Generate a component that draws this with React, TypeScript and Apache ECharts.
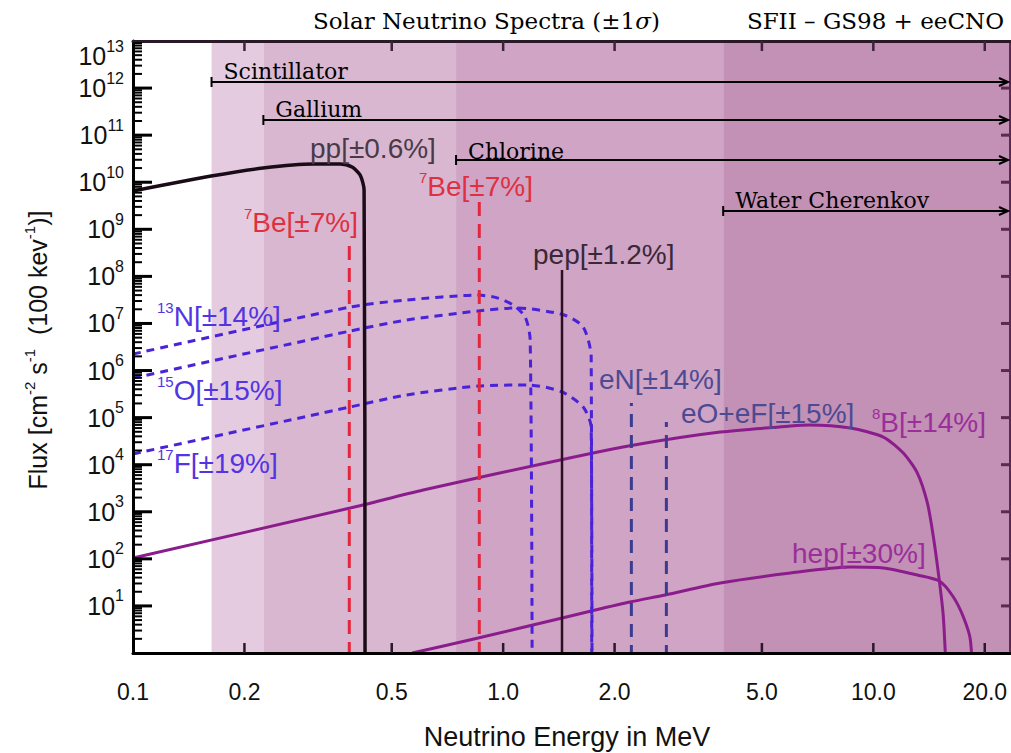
import React, { useEffect, useRef } from "react";
import * as echarts from "echarts";

// ---- axis ranges -------------------------------------------------------
const energyMin = 0.1; // MeV
const energyMax = 23.4; // MeV
const fluxExpMin = 0; // 10^0
const fluxExpMax = 13; // 10^13

const energyTickValues = [0.1, 0.2, 0.5, 1, 2, 5, 10, 20];
const fluxTickExponents = [1, 2, 3, 4, 5, 6, 7, 8, 9, 10, 11, 12, 13];

// ---- detector thresholds (MeV) -----------------------------------------
const detectorNames = ["Scintillator", "Gallium", "Chlorine", "Water Cherenkov"];
const detectorThresholds = [0.163, 0.225, 0.746, 3.93];
const detectorBandColors = ["#e4cbe0", "#d9b7d1", "#cfa4c5", "#c291b5"];

// ---- continuum spectra: [energy MeV, flux] -----------------------------
const ppSpectrum = [
  [0.1, 6.5e9], [0.1626, 1.35e10], [0.2246, 2.0e10], [0.3065, 2.44e10],
  [0.3626, 2.44e10], [0.3907, 2.1e10], [0.4108, 1.42e10], [0.421, 6.8e9], [0.4236, 0.1],
];
const n13Spectrum = [
  [0.1, 2.24e6], [0.386, 2.23e7], [0.547, 3.15e7], [0.856, 4.0e7], [0.963, 3.5e7],
  [1.064, 2.46e7], [1.147, 1.37e7], [1.183, 4.45e6], [1.198, 0.1],
];
const o15Spectrum = [
  [0.1, 6.9e5], [0.386, 6.9e6], [0.547, 1.18e7], [0.856, 1.84e7], [1.091, 2.13e7],
  [1.462, 1.51e7], [1.645, 8.4e6], [1.729, 1.94e6], [1.735, 0.1],
];
const f17Spectrum = [
  [0.1, 1.69e4], [0.386, 1.68e5], [0.547, 3.02e5], [0.856, 4.69e5], [1.176, 4.92e5],
  [1.444, 3.5e5], [1.645, 1.68e5], [1.729, 6.3e4], [1.738, 0.1],
];
const b8Spectrum = [
  [0.1, 104], [0.386, 1200], [0.608, 2900], [1.426, 12600], [2.26, 26200], [3.86, 49400],
  [5.97, 66000], [6.71, 69600], [8.67, 60000], [10.64, 38700], [12.05, 17700],
  [13.15, 6650], [14.0, 1530], [14.53, 291], [15.08, 33.8], [15.46, 5.8], [15.85, 0.1],
];
const hepSpectrum = [
  [0.568, 1.0], [0.856, 2.08], [1.444, 5.54], [1.729, 7.8], [2.2, 12.1], [2.74, 17.1],
  [3.86, 30.7], [5.97, 50], [8.67, 67], [10.64, 64], [13.15, 45.4], [15.08, 33.8],
  [16.45, 15.5], [17.51, 5.8], [18.29, 1.89], [18.64, 0.1],
];

// ---- line sources: [energy MeV, peak flux] ------------------------------
const be7Lines = [[0.384, 5.9e8], [0.862, 4.6e9]];
const pepLine = [1.442, 1.36e8];
const eCnoLines = [[2.22, 2.04e5], [2.76, 8.07e4]];

// ---- layout ------------------------------------------------------------
const W = 1011;
const H = 753;
const gridBox = { left: 133, right: 1, top: 41, bottom: 100 };
const arrowRows = [82, 120, 160, 211];
const arrowLabelRows = [71, 109, 151, 200];

const sans = "Liberation Sans";
const serif = "DejaVu Serif";
const log = Math.log10;
const toLogPts = (pts: number[][]) => pts.map(([e, f]) => [log(e), log(f)]);

const minorExponents: number[] = [];
for (let d = fluxExpMin; d < fluxExpMax; d++) {
  for (let k = 2; k <= 9; k++) minorExponents.push(d + log(k));
}

function curve(pts: number[][], color: string, width: number, type: any = "solid") {
  return {
    type: "line",
    data: toLogPts(pts),
    showSymbol: false,
    symbol: "none",
    smooth: 0.25,
    silent: true,
    z: 3,
    lineStyle: { color, width, type, cap: "butt" },
  };
}

function spike(e: number, f: number, color: string, width: number, type: any) {
  return {
    type: "line",
    data: [[log(e), -1], [log(e), log(f)]],
    showSymbol: false,
    symbol: "none",
    silent: true,
    z: 3,
    lineStyle: { color, width, type, cap: "butt" },
  };
}

function buildOption() {
  const xMin = log(energyMin);
  const xMax = log(energyMax);
  const bandData = detectorThresholds.map((t, i) => [
    log(t),
    i + 1 < detectorThresholds.length ? log(detectorThresholds[i + 1]) : xMax,
    i,
  ]);

  const xBase = {
    type: "value",
    min: xMin,
    max: xMax,
    z: 5,
    splitLine: { show: false },
    axisTick: { show: false },
  };
  const yBase = {
    type: "value",
    min: fluxExpMin,
    max: fluxExpMax,
    z: 5,
    splitLine: { show: false },
    axisTick: { show: false },
  };

  return {
    animation: false,
    backgroundColor: "#ffffff",
    grid: { ...gridBox },
    xAxis: [
      {
        ...xBase,
        position: "bottom",
        axisLine: { show: true, onZero: false, lineStyle: { color: "#000", width: 3 } },
        axisLabel: {
          show: true,
          customValues: energyTickValues.map(log),
          formatter: (v: number) => Math.pow(10, v).toFixed(1),
          margin: 27,
          fontSize: 23,
          fontFamily: sans,
          color: "#111",
        },
      },
      {
        ...xBase,
        position: "top",
        axisLine: { show: true, onZero: false, lineStyle: { color: "#2a1a28", width: 3 } },
        axisLabel: { show: false },
      },
    ],
    yAxis: [
      {
        ...yBase,
        position: "left",
        axisLine: { show: true, onZero: false, lineStyle: { color: "#000", width: 3 } },
        axisLabel: {
          show: true,
          customValues: fluxTickExponents,
          margin: 9,
          formatter: (v: number) =>
            v === fluxExpMax ? `{g| }\n{b|10}{s|${v}}` : `{b|10}{s|${v}}`,
          rich: {
            g: { fontSize: 10, lineHeight: 30 },
            b: { fontSize: 25, fontFamily: sans, color: "#111", lineHeight: 36 },
            s: { fontSize: 16, fontFamily: sans, color: "#111", lineHeight: 36, verticalAlign: "top" },
          },
        },
      },
      {
        ...yBase,
        position: "right",
        axisLine: { show: true, onZero: false, lineStyle: { color: "#5a2a50", width: 2 } },
        axisLabel: { show: false },
      },
    ],
    series: [
      {
        type: "custom",
        silent: true,
        z: 1,
        clip: true,
        data: bandData,
        encode: { x: [0, 1] },
        renderItem: (_params: any, api: any) => {
          const p0 = api.coord([api.value(0), fluxExpMax]);
          const p1 = api.coord([api.value(1), fluxExpMin]);
          return {
            type: "rect",
            shape: { x: p0[0], y: p0[1], width: p1[0] - p0[0], height: p1[1] - p0[1] },
            style: { fill: detectorBandColors[api.value(2)] },
          };
        },
      },
      curve(b8Spectrum, "#8b1c8b", 3),
      curve(hepSpectrum, "#8b1c8b", 3),
      curve(f17Spectrum, "#4a22d8", 3, [8, 6]),
      curve(o15Spectrum, "#4a22d8", 3, [8, 6]),
      curve(n13Spectrum, "#4a22d8", 3, [8, 6]),
      curve(ppSpectrum, "#1a0c16", 3.5),
      ...be7Lines.map(([e, f]) => spike(e, f, "#e3263c", 3, [14, 8])),
      spike(pepLine[0], pepLine[1], "#2a1020", 2.5, "solid"),
      ...eCnoLines.map(([e, f]) => spike(e, f, "#3b3b8f", 3, [13, 8])),
    ],
  };
}

function labelText(x: number, y: number, text: string, color: string) {
  return {
    type: "text",
    x,
    y,
    z: 20,
    silent: true,
    style: {
      text,
      fill: color,
      align: "left",
      verticalAlign: "middle",
      rich: {
        m: { fontSize: 28, fontFamily: sans, fill: color, lineHeight: 32 },
        s: { fontSize: 15, fontFamily: sans, fill: color, lineHeight: 32, verticalAlign: "top" },
      },
    },
  };
}

function seg(x1: number, y1: number, x2: number, y2: number, stroke: string, lineWidth: number) {
  return { type: "line", z: 20, silent: true, shape: { x1, y1, x2, y2 }, style: { stroke, lineWidth } };
}

export default function App() {
  const ref = useRef<HTMLDivElement>(null);

  useEffect(() => {
    if (!ref.current) return;
    const chart = echarts.init(ref.current, null, { renderer: "svg" });
    chart.setOption(buildOption());

    // (log-energy, log-flux) -> pixel through the spectra's cartesian system
    const toPx = (lx: number, ly: number) =>
      chart.convertToPixel({ seriesIndex: 1 }, [lx, ly]) as number[];
    const [xLeft, yBottom] = toPx(log(energyMin), fluxExpMin);
    const [xRight, yTop] = toPx(log(energyMax), fluxExpMax);
    const px = (e: number) => toPx(log(e), fluxExpMin)[0];
    const py = (exp: number) => toPx(log(energyMin), exp)[1];
    const graphics: any[] = [];

    // detector coverage arrows
    detectorThresholds.forEach((t, i) => {
      const x0 = px(t);
      const y = arrowRows[i];
      const tip = xRight - 2;
      graphics.push(
        seg(x0, y, tip, y, "#000", 2),
        seg(x0, y - 5, x0, y + 5, "#000", 2),
        {
          type: "polyline",
          z: 20,
          silent: true,
          shape: { points: [[tip - 9, y - 4], [tip, y], [tip - 9, y + 4]] },
          style: { stroke: "#000", lineWidth: 2, fill: null },
        },
        {
          type: "text",
          z: 20,
          silent: true,
          x: x0 + 12,
          y: arrowLabelRows[i],
          style: { text: detectorNames[i], fill: "#000", fontSize: 22, fontFamily: serif, verticalAlign: "middle" },
        }
      );
    });

    // frame ticks, all pointing inward
    fluxTickExponents.slice(0, -1).forEach((v) => {
      const y = py(v);
      graphics.push(seg(xLeft, y, xLeft + 19, y, "#000", 3));
      graphics.push(seg(xRight, y, xRight - 9, y, "#5a2a50", 3));
    });
    minorExponents.forEach((v) => {
      const y = py(v);
      graphics.push(seg(xLeft, y, xLeft + 9, y, "#000", 2));
    });
    energyTickValues.slice(1).forEach((e) => {
      const x = px(e);
      graphics.push(seg(x, yBottom, x, yBottom - 10, "#2a1a28", 2.5));
      graphics.push(seg(x, yTop, x, yTop + 10, "#3a2436", 2.5));
    });

    // spectrum labels
    graphics.push(
      labelText(310, 148, "{m|pp[±0.6%]}", "#4a3a48"),
      labelText(244, 222, "{s|7}{m|Be[±7%]}", "#e0303f"),
      labelText(419, 186, "{s|7}{m|Be[±7%]}", "#e0303f"),
      labelText(533, 254, "{m|pep[±1.2%]}", "#3a2836"),
      labelText(157, 316, "{s|13}{m|N[±14%]}", "#5234e2"),
      labelText(157, 390, "{s|15}{m|O[±15%]}", "#5234e2"),
      labelText(157, 463, "{s|17}{m|F[±19%]}", "#5234e2"),
      labelText(599, 379, "{m|eN[±14%]}", "#4c4a92"),
      labelText(681, 413, "{m|eO+eF[±15%]}", "#4c4a92"),
      labelText(872, 422, "{s|8}{m|B[±14%]}", "#9a2e9a"),
      labelText(792, 553, "{m|hep[±30%]}", "#9a2e9a")
    );

    // titles
    graphics.push(
      {
        type: "text",
        z: 20,
        silent: true,
        x: 313,
        y: 21,
        style: {
          text: "{t|Solar Neutrino Spectra (±1}{i|σ}{t|)}",
          fill: "#000",
          verticalAlign: "middle",
          rich: {
            t: { fontSize: 23, fontFamily: serif, fill: "#000" },
            i: { fontSize: 23, fontFamily: serif, fontStyle: "italic", fill: "#000" },
          },
        },
      },
      {
        type: "text",
        z: 20,
        silent: true,
        x: 1004,
        y: 21,
        style: { text: "SFII – GS98 + eeCNO", fill: "#000", fontSize: 23, fontFamily: serif, align: "right", verticalAlign: "middle" },
      },
      {
        type: "text",
        z: 20,
        silent: true,
        x: 567,
        y: 737,
        style: { text: "Neutrino Energy in MeV", fill: "#111", fontSize: 27, fontFamily: sans, align: "center", verticalAlign: "middle" },
      },
      {
        type: "text",
        z: 20,
        silent: true,
        x: 38,
        y: 350,
        rotation: Math.PI / 2,
        style: {
          text: "{m|Flux [cm}{u|-2}{m| s}{u|-1}{m|  (100 kev}{u|-1}{m|)]}",
          fill: "#111",
          align: "center",
          verticalAlign: "middle",
          rich: {
            m: { fontSize: 25, fontFamily: sans, fill: "#111", lineHeight: 32 },
            u: { fontSize: 15, fontFamily: sans, fill: "#111", lineHeight: 32, verticalAlign: "top" },
          },
        },
      }
    );

    chart.setOption({ graphic: graphics });
    return () => chart.dispose();
  }, []);

  return (
    <div
      ref={ref}
      style={{ position: "fixed", left: 0, top: 0, width: W, height: H, background: "#fff" }}
    />
  );
}
